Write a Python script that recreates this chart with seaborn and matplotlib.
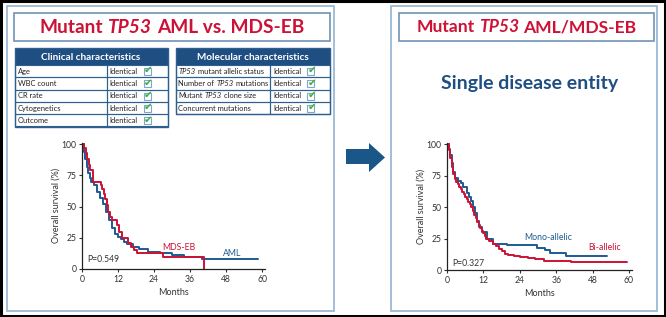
import matplotlib
matplotlib.use("Agg")
import matplotlib.pyplot as plt
from matplotlib.patches import Rectangle, Polygon
import seaborn as sns

# ---- data -------------------------------------------------------------
clinical_rows = ["Age", "WBC count", "CR rate", "Cytogenetics", "Outcome"]
molecular_rows = [
    [("TP53", "italic"), ("mutant allelic status", "normal")],
    [("Number of", "normal"), ("TP53", "italic"), ("mutations", "normal")],
    [("Mutant", "normal"), ("TP53", "italic"), ("clone size", "normal")],
    [("Concurrent mutations", "normal")],
]
row_value = "Identical"

# Kaplan-Meier steps, months vs overall survival (%)
aml_months = [0, 0.5, 1, 1.5, 2, 2.5, 3, 4, 5, 6, 7, 8, 9, 10, 11, 12, 13,
              14, 15, 17, 19, 22, 26, 30, 34, 40, 58.7]
aml_surv = [100, 94, 88, 82, 77, 73, 70, 67, 62, 57, 52, 46, 39, 33, 28, 26,
            24, 22, 20, 18, 16, 14, 13, 11, 10, 8, 8]
mds_months = [0, 0.8, 1.3, 1.8, 2.3, 2.8, 3.6, 6.3, 6.8, 7.3, 7.8, 8.3, 8.8,
              9.3, 10.1, 11.7, 12.3, 13.3, 15.2, 16.3, 17.3, 18.2, 27, 40.7]
mds_surv = [100, 97, 93, 88, 83, 79, 70, 67, 64, 60, 56, 51, 46, 42, 39, 35,
            30, 25, 21, 18, 15, 13, 10, 0]

mono_months = [0, 0.5, 1, 1.5, 2, 2.6, 3.5, 4.5, 5.3, 6.5, 7.3, 8, 8.7, 9.2,
               9.8, 10.5, 11.4, 13.1, 15.3, 19.7, 29.6, 32.3, 34.0, 39.3, 52.7]
mono_surv = [100, 96, 91, 85, 78, 73, 71, 69, 66, 61, 58, 55, 50, 45, 39, 34,
             30, 25, 21, 19.5, 17.5, 15.5, 13.5, 11, 11]
bi_months = [0, 0.5, 1, 1.5, 2, 2.5, 3, 3.5, 4, 4.5, 5, 5.5, 6, 6.5, 7, 7.5,
             8, 8.5, 9, 9.5, 10, 10.5, 11, 11.5, 12, 12.5, 13, 14, 15, 16, 17,
             18, 19, 20, 22, 24, 26.7, 29, 32, 41, 59.3]
bi_surv = [100, 95, 89, 82, 76, 72, 70, 68, 66, 64, 62, 60, 58, 56, 54, 52,
           50, 47, 44, 41, 38, 36, 33, 31, 29, 27, 25, 23, 21, 19, 17, 15, 13,
           12, 11, 10.5, 9.5, 8.5, 7.2, 6.3, 6.3]

month_ticks = [0, 12, 24, 36, 48, 60]
surv_ticks = [0, 25, 50, 75, 100]

# ---- style ------------------------------------------------------------
RED = "#cc1236"
BLUE = "#1d5a93"
NAVY = "#1f4f82"
PANEL = "#93b3d2"
GREEN = "#3aae3a"

sns.set_theme(style="ticks")
plt.rcParams["font.family"] = ["Lato", "DejaVu Sans"]

W, H = 666, 317
fig = plt.figure(figsize=(W / 100, H / 100), dpi=100)
bg = fig.add_axes([0, 0, 1, 1])
bg.set_xlim(0, W)
bg.set_ylim(H, 0)
bg.axis("off")
renderer = fig.canvas.get_renderer()


def text_width(s, **kw):
    t = bg.text(0, 0, s, **kw)
    w = t.get_window_extent(renderer).width
    t.remove()
    return w


def rich(x, y, parts, ha="left", **kw):
    """Draw text pieces with mixed styles next to each other."""
    gap = text_width("M M", **kw) - text_width("MM", **kw)
    widths = [text_width(s, fontstyle=st, **kw) for s, st in parts]
    total = sum(widths) + gap * (len(parts) - 1)
    x0 = x - total / 2 if ha == "center" else x
    for (s, st), w in zip(parts, widths):
        bg.text(x0, y, s, fontstyle=st, va="center", ha="left", **kw)
        x0 += w + gap


def box(x0, y0, x1, y1, **kw):
    bg.add_patch(Rectangle((x0, y0), x1 - x0, y1 - y0, **kw))


# frame and panels
box(1, 1, W - 1, H - 1, fill=False, ec="black", lw=2.2)
box(7, 6, 334, 311, fill=False, ec=PANEL, lw=1.2)
box(391, 6, 657, 311, fill=False, ec=PANEL, lw=1.2)
box(14, 13, 330, 41, fill=False, ec="#6f93b8", lw=1.2)
box(399, 13, 654, 41, fill=False, ec="#6f93b8", lw=1.2)

rich(172, 27.5, [("Mutant", "normal"), ("TP53", "italic"),
                 ("AML vs. MDS-EB", "normal")], ha="center",
     fontsize=13.8, fontweight="bold", color=RED)
rich(526.5, 27.5, [("Mutant", "normal"), ("TP53", "italic"),
                   ("AML/MDS-EB", "normal")], ha="center",
     fontsize=12.6, fontweight="bold", color=RED)
bg.text(530, 83, "Single disease entity", ha="center", va="center",
        fontsize=14, fontweight="bold", color=NAVY)


def table(x0, x1, xs, title, rows):
    top, head, rh = 48, 65, 12.3
    box(x0, top, x1, head, color=NAVY, lw=0)
    bg.text((x0 + x1) / 2, (top + head) / 2 + 0.5, title, ha="center",
            va="center", color="white", fontsize=7.2, fontweight="bold")
    for i, row in enumerate(rows):
        ya = head + i * rh
        box(x0, ya, xs, ya + rh, fill=False, ec="#2f5f8f", lw=0.8)
        box(xs, ya, x1, ya + rh, fill=False, ec="#2f5f8f", lw=0.8)
        rich(x0 + 3, ya + rh / 2, row, fontsize=5.4, color="#222222")
        bg.text(xs + 3, ya + rh / 2, row_value, ha="left", va="center",
                fontsize=5.4, color="#222222")
        box(xs + 37, ya + 3, xs + 44, ya + 10, fill=False, ec="#7fa7c9",
            lw=0.8)
        bg.text(xs + 41.8, ya + 5.2, "\u2714", ha="center", va="center",
                fontsize=7.5, color=GREEN, family="DejaVu Sans")
    box(x0, top, x1, head + len(rows) * rh, fill=False, ec="#2f5f8f", lw=1)


table(14.5, 167.5, 106.5, "Clinical characteristics",
      [[(r, "normal")] for r in clinical_rows])
table(175.5, 330, 270, "Molecular characteristics", molecular_rows)

# arrow
bg.add_patch(Polygon([(346, 149), (369, 149), (369, 143), (385, 157.5),
                      (369, 172), (369, 164), (346, 164)],
                     closed=True, color="#1b5689", lw=0))


def km_axes(x0, x1, y_top, y0):
    ax = fig.add_axes([x0 / W, 1 - y0 / H, (x1 - x0) / W, (y0 - y_top) / H])
    ax.set_facecolor("none")
    return ax


def km_style(ax):
    ax.set_xlim(0, 61)
    ax.set_ylim(0, 101)
    ax.set_xticks(month_ticks)
    ax.set_yticks(surv_ticks)
    ax.tick_params(labelsize=6.2, colors="#333333", length=2.5, width=0.8,
                   pad=1.5)
    for s in ["top", "right"]:
        ax.spines[s].set_visible(False)
    for s in ["left", "bottom"]:
        ax.spines[s].set_color("#222222")
        ax.spines[s].set_linewidth(0.9)
    ax.set_xlabel("Months", fontsize=6.5, color="#333333", labelpad=3)
    ax.set_ylabel("Overall survival (%)", fontsize=6.5, color="#333333",
                  labelpad=0.5)


ax1 = km_axes(82, 82 + 180 * 61 / 60, 144 - 1.25, 269)
sns.lineplot(x=aml_months, y=aml_surv, ax=ax1, color=BLUE, lw=1.4,
             drawstyle="steps-post", estimator=None, sort=False)
sns.lineplot(x=mds_months, y=mds_surv, ax=ax1, color=RED, lw=1.4,
             drawstyle="steps-post", estimator=None, sort=False)
km_style(ax1)
ax1.text(32.2, 17.6, "MDS-EB", color=RED, fontsize=6.3, ha="center",
         va="center")
ax1.text(50, 12.8, "AML", color=BLUE, fontsize=6.3, ha="center",
         va="center")
ax1.text(1.7, 8, "P=0.549", color="#333333", fontsize=6.2, va="center")

ax2 = km_axes(447, 447 + 182 * 61 / 60, 144 - 1.26, 270)
sns.lineplot(x=mono_months, y=mono_surv, ax=ax2, color=BLUE, lw=1.4,
             drawstyle="steps-post", estimator=None, sort=False)
sns.lineplot(x=bi_months, y=bi_surv, ax=ax2, color=RED, lw=1.4,
             drawstyle="steps-post", estimator=None, sort=False)
km_style(ax2)
ax2.text(33.3, 25.4, "Mono-allelic", color=BLUE, fontsize=6.3, ha="center",
         va="center")
ax2.text(51.8, 17.5, "Bi-allelic", color=RED, fontsize=6.3, ha="center",
         va="center")
ax2.text(1.6, 5.5, "P=0.327", color="#333333", fontsize=6.2, va="center")

fig.savefig("out.png", dpi=100)
